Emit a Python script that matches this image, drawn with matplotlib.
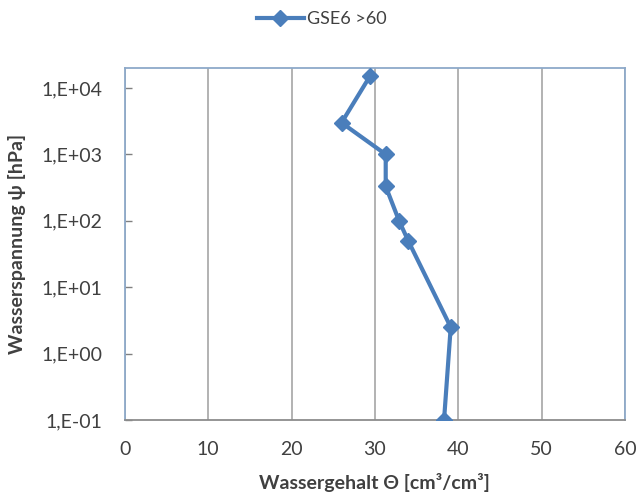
import matplotlib
matplotlib.use("Agg")
import matplotlib.pyplot as plt
from matplotlib.ticker import FixedLocator, NullLocator

plt.rcParams['font.family'] = ['Lato', 'DejaVu Sans']

# Water content (vol-%) versus water tension (hPa)
series_name = "GSE6 >60"
water_content = [29.4, 26.0, 31.3, 31.3, 32.9, 34.0, 39.1, 38.3]
water_tension = [15000, 3000, 1000, 330, 100, 50, 2.5, 0.1]

x_ticks = [0, 10, 20, 30, 40, 50, 60]
y_ticks = [0.1, 1, 10, 100, 1000, 10000]
y_tick_labels = ["1,E-01", "1,E+00", "1,E+01", "1,E+02", "1,E+03", "1,E+04"]

blue = "#4A7EBB"
grid_gray = "#A6A6A6"
border_blue = "#8EA9C9"

fig = plt.figure(figsize=(6.37, 5.0), dpi=100)
ax = fig.add_axes([0.196, 0.16, 0.785, 0.704])

ax.plot(water_content, water_tension, color=blue, lw=3.0, marker='D',
        markersize=8.5, markerfacecolor=blue, markeredgecolor=blue,
        label=series_name, zorder=3)

ax.set_yscale('log')
ax.set_xlim(0, 60)
ax.set_ylim(0.1, 20000)

ax.xaxis.set_major_locator(FixedLocator(x_ticks))
ax.set_xticklabels([str(v) for v in x_ticks])
ax.yaxis.set_major_locator(FixedLocator(y_ticks))
ax.set_yticklabels(y_tick_labels)
ax.yaxis.set_minor_locator(NullLocator())

ax.grid(axis='x', color=grid_gray, lw=1.2)
ax.set_axisbelow(True)

ax.tick_params(axis='x', length=0, pad=15, labelsize=14, colors='#404040')
ax.tick_params(axis='y', direction='in', length=5, width=1, color='#808080',
               pad=16, labelsize=14, labelcolor='#404040')

for side in ('top', 'right', 'left'):
    ax.spines[side].set_color(border_blue)
    ax.spines[side].set_linewidth(1.3)
ax.spines['bottom'].set_color('#8C8C8C')
ax.spines['bottom'].set_linewidth(1.3)

ax.set_xlabel("Wassergehalt Θ [cm³/cm³]", fontsize=14, fontweight='bold',
              color='#404040', labelpad=11)
ax.set_ylabel("Wasserspannung ψ [hPa]", fontsize=14, fontweight='bold',
              color='#404040', labelpad=11)

fig.legend(loc='upper center', bbox_to_anchor=(0.505, 1.01), frameon=False,
           fontsize=13, handlelength=2.6, handletextpad=0.2,
           labelcolor='#404040')

fig.savefig("out.png", dpi=100)
